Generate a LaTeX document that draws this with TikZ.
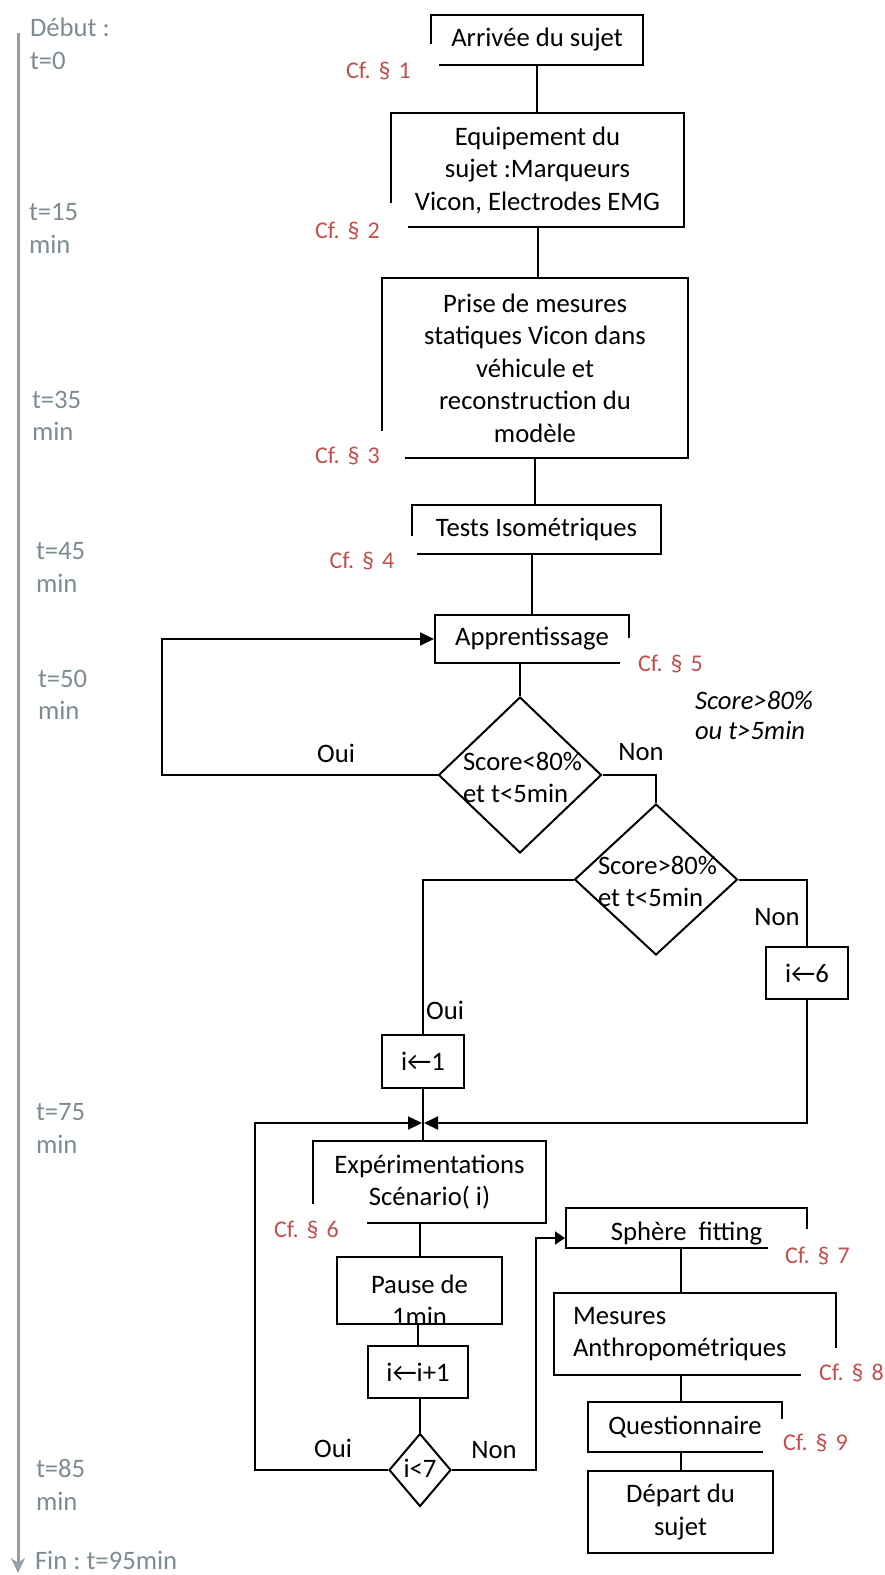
\documentclass[tikz,border=0pt]{standalone}
\usepackage{fontspec}
\setmainfont{Carlito}
\usetikzlibrary{shapes.geometric,arrows.meta,calc}
\definecolor{cfred}{RGB}{192,80,77}
\definecolor{tlgray}{RGB}{125,140,146}
\definecolor{tlline}{RGB}{150,160,164}
\frenchspacing

\begin{document}
\begin{tikzpicture}[x=1pt,y=-1pt,line width=2pt,
  every node/.style={font=\fontsize{26.67}{32.5}\selectfont},
  box/.style={draw, line width=2pt, inner sep=0pt, align=center},
  dmd/.style={draw, diamond, line width=2pt, inner sep=0pt},
  dtxt/.style={anchor=west, align=left, inner sep=0pt},
  lbl/.style={inner sep=0pt},
  tl/.style={anchor=west, align=left, inner sep=0pt, text=tlgray},
  cfl/.style={fill=white, text=cfred, font=\fontsize{24}{29}\selectfont,
    inner ysep=0pt, inner xsep=5pt, align=left, anchor=north east},
  cfr/.style={fill=white, text=cfred, font=\fontsize{24}{29}\selectfont,
    inner ysep=0pt, align=left, anchor=north west, text width=80pt},
  arrowed/.style={-{Triangle[length=14pt,width=13pt]}},
  arrowedsmall/.style={-{Triangle[length=10pt,width=13pt]}}
]
\useasboundingbox (0,0) rectangle (885,1575);

% time axis
\coordinate (tlTop) at (18,33);
\coordinate (tlEnd) at (18,1573);
\draw[tlline, line width=3pt, -{Stealth[length=15pt,width=14pt]}] (tlTop) -- (tlEnd);
\node[tl] (tl0)  at (29,44)     {Début :\\t=0};
\node[tl] (tl15) at (28,228.5)  {t=15\\min};
\node[tl] (tl35) at (31,416)    {t=35\\min};
\node[tl] (tl45) at (35,567.5)  {t=45\\min};
\node[tl] (tl50) at (37,695)    {t=50\\min};
\node[tl] (tl75) at (35,1128.5) {t=75\\min};
\node[tl] (tl85) at (35,1485)   {t=85\\min};
\node[tl] (tlF)  at (34,1560)   {Fin : t=95min};

% process boxes
\node[box, minimum width=212pt, minimum height=50pt] (arr) at (537,40) {Arrivée du sujet};
\node[box, minimum width=293pt, minimum height=114pt] (equip) at (537.5,170)
  {Equipement du\\sujet :Marqueurs\\Vicon, Electrodes EMG};
\node[box, minimum width=306pt, minimum height=180pt] (prise) at (535,368)
  {Prise de mesures\\statiques Vicon dans\\véhicule et\\reconstruction du\\modèle};
\node[box, minimum width=249pt, minimum height=49pt] (tests) at (536.5,529.5) {Tests Isométriques};
\node[box, minimum width=194pt, minimum height=48pt] (appr) at (532,639) {Apprentissage};

% decisions
\node[dmd, minimum width=163pt, minimum height=156pt] (d1) at (520,775) {};
\node[dtxt] (d1t) at (462,777.5) {Score<80\%\\et t<5min};
\node[dmd, minimum width=163pt, minimum height=151pt] (d2) at (656,879.5) {};
\node[dtxt] (d2t) at (597,881.5) {Score>80\%\\et t<5min};

\node[box, minimum width=82pt, minimum height=53pt] (i1) at (423,1061.5) {i←1};
\node[box, minimum width=82pt, minimum height=52pt] (i6) at (807,973) {i←6};

\node[box, minimum width=233pt, minimum height=82pt] (exp) at (429.5,1182)
  {Expérimentations\\Scénario( i)};
\node[box, minimum width=165pt, minimum height=67pt,
  label={[align=center, yshift=-9.5pt]center:{Pause de\\1min}}] (pause) at (419.5,1290.5) {};
\node[box, minimum width=100pt, minimum height=52pt] (inc) at (418,1372) {i←i+1};
\node[dmd, minimum width=62pt, minimum height=73pt] (d3) at (420,1470) {};
\node[lbl] (d3t) at (420,1468) {i<7};

\node[box, minimum width=241pt, minimum height=40pt,
  label={[yshift=-6pt]center:{Sphère\ \ fitting}}] (sphere) at (686.5,1228) {};
\node[box, minimum width=282pt, minimum height=82pt, align=left, text width=244pt,
  inner xsep=19pt] (mes) at (695,1334) {Mesures\\Anthropométriques};
\node[box, minimum width=194pt, minimum height=50pt] (quest) at (685,1427) {Questionnaire};
\node[box, minimum width=185pt, minimum height=82pt] (dep) at (680.5,1512) {Départ du\\sujet};

% references to the sections
\node[cfl, text width=88pt, minimum height=54pt] (cf1) at (440,43) {Cf. § 1};
\node[cfl, text width=88pt, minimum height=56pt] (cf2) at (409,202) {Cf. § 2};
\node[cfl, text width=85pt, minimum height=50pt] (cf3) at (406,430) {Cf. § 3};
\node[cfl, text width=82pt, minimum height=50pt] (cf4) at (417.5,535) {Cf. § 4};
\node[cfr, inner xsep=18pt, minimum height=52pt] (cf5) at (619,637) {Cf. § 5};
\node[cfl, text width=88pt, minimum height=52pt] (cf6) at (368,1203) {Cf. § 6};
\node[cfr, inner xsep=17pt, minimum height=54pt] (cf7) at (767,1228) {Cf. § 7};
\node[cfr, inner xsep=18pt, minimum height=50pt] (cf8) at (800,1347) {Cf. § 8};
\node[cfr, inner xsep=20pt, minimum height=48pt] (cf9) at (762,1418) {Cf. § 9};

% branch labels
\node[lbl] (oui1) at (336,753) {Oui};
\node[lbl] (non1) at (641,752) {Non};
\node[lbl] (oui2) at (445,1010) {Oui};
\node[lbl] (non2) at (777,917) {Non};
\node[lbl] (oui3) at (333,1448) {Oui};
\node[lbl] (non3) at (494,1450) {Non};
\node[dtxt, font=\fontsize{26.67}{30}\selectfont\itshape] (cond) at (694,715)
  {Score>80\%\\ou t>5min};

% connectors
\draw (arr.south) -- (arr.south |- equip.north);
\draw (equip.south) -- (equip.south |- prise.north);
\draw (prise.south) -- (prise.south |- tests.north);
\draw (appr.north) -- (appr.north |- tests.south);
\draw (d1.north) -- (d1.north |- appr.south);

\coordinate (loopA) at (162,775);
\draw[arrowed] (d1.west) -- (loopA) |- (appr.west);
\draw (d1.east) -| (d2.north);
\draw (d2.west) -| (i1.north);
\draw (d2.east) -| (i6.north);

\coordinate (merge) at (423,1123);
\draw (i1.south) -- (i1.south |- exp.north);
\draw[arrowed] (i6.south) |- ([xshift=1pt]merge);
\coordinate (loopB) at (255,1470);
\draw[arrowed] (d3.west) -- (loopB) |- ([xshift=-1pt]merge);

\draw (pause.north) -- (pause.north |- exp.south);
\draw (inc.north) -- (inc.north |- pause.south);
\draw (d3.north) -- (d3.north |- inc.south);

\coordinate (outR) at (536,1470);
\draw[arrowedsmall] (d3.east) -- (outR) |- ([yshift=-10pt]sphere.west);

\draw (sphere.south -| dep.north) -- (mes.north -| dep.north);
\draw (mes.south -| dep.north) -- (quest.north -| dep.north);
\draw (quest.south -| dep.north) -- (dep.north);
\end{tikzpicture}
\end{document}
